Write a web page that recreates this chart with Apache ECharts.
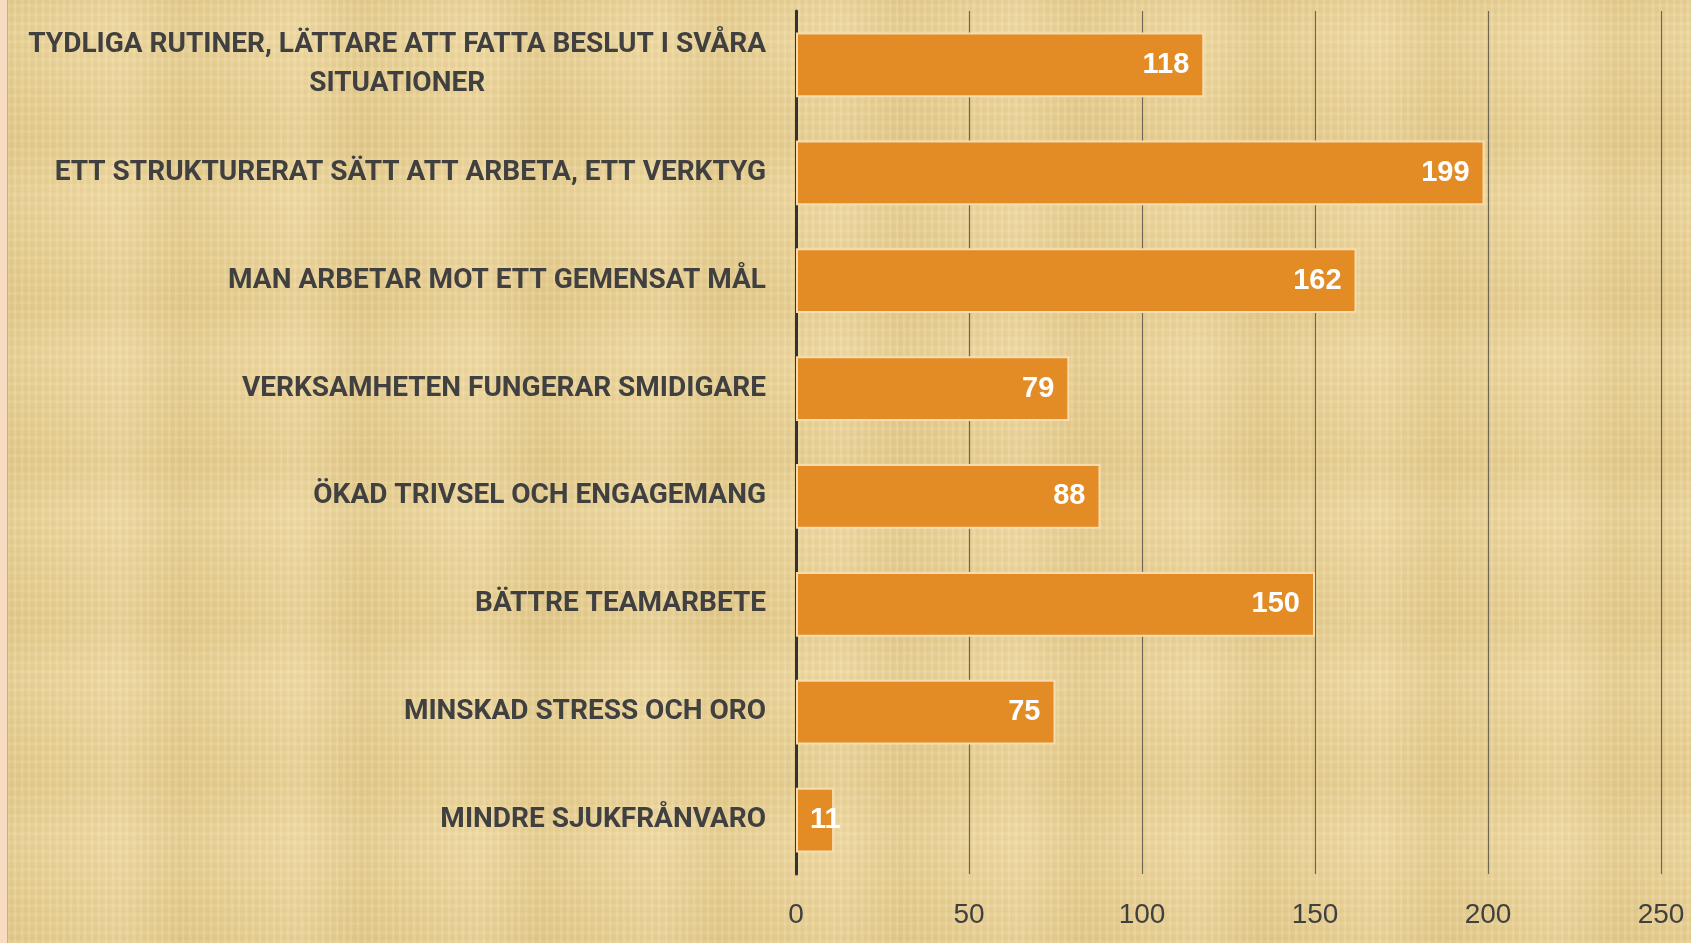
<!DOCTYPE html>
<html>
<head>
<meta charset="utf-8">
<script src="https://cdn.jsdelivr.net/npm/echarts@6/dist/echarts.min.js"></script>
<style>
  * { margin: 0; padding: 0; box-sizing: border-box; }
  html, body { width: 1691px; height: 943px; overflow: hidden; }
  body {
    background-color: #e7cf94;
    background-image:
      repeating-linear-gradient(90deg, rgba(255,245,210,0.14) 0px, rgba(255,245,210,0.14) 2px, rgba(190,160,90,0.07) 3px, rgba(190,160,90,0) 7px),
      repeating-linear-gradient(0deg, rgba(255,245,210,0.10) 0px, rgba(255,245,210,0.10) 2px, rgba(180,150,80,0.05) 4px, rgba(180,150,80,0) 9px),
      repeating-linear-gradient(90deg, rgba(200,170,100,0.15) 0px, rgba(200,170,100,0) 60px, rgba(255,240,200,0.15) 120px, rgba(200,170,100,0.15) 180px),
      repeating-linear-gradient(0deg, rgba(210,180,110,0.15) 0px, rgba(210,180,110,0) 50px, rgba(250,235,190,0.18) 110px, rgba(210,180,110,0.15) 160px);
  }
  .edge {
    position: absolute; left: 0; top: 0; width: 8px; height: 943px;
    background: #f8dcc2; border-right: 1px solid #a9b4c4;
  }
  #chart { position: absolute; left: 0; top: 0; width: 1691px; height: 943px; }
</style>
</head>
<body>
<div class="edge"></div>
<div id="chart"></div>
<script>
const categories = [
  'TYDLIGA RUTINER, LÄTTARE ATT FATTA BESLUT I SVÅRA\nSITUATIONER',
  'ETT STRUKTURERAT SÄTT ATT ARBETA, ETT VERKTYG',
  'MAN ARBETAR MOT ETT GEMENSAT MÅL',
  'VERKSAMHETEN FUNGERAR SMIDIGARE',
  'ÖKAD TRIVSEL OCH ENGAGEMANG',
  'BÄTTRE TEAMARBETE',
  'MINSKAD STRESS OCH ORO',
  'MINDRE SJUKFRÅNVARO'
]
const values = [118, 199, 162, 79, 88, 150, 75, 11]
const xTicks = [0, 50, 100, 150, 200, 250]

const labelFont = 'Roboto'

const chart = echarts.init(document.getElementById('chart'))

chart.setOption({
  backgroundColor: 'transparent',
  animation: false,
  grid: { left: 796, right: 30, top: 11, bottom: 69, outerBoundsMode: 'none', containLabel: false },
  xAxis: {
    type: 'value',
    min: xTicks[0],
    max: xTicks[xTicks.length - 1],
    interval: xTicks[1] - xTicks[0],
    axisLine: { show: false },
    axisTick: { show: false },
    splitLine: {
      show: true,
      lineStyle: { color: '#6f6656', width: 1.2 }
    },
    axisLabel: {
      color: '#404040',
      fontFamily: 'Liberation Sans',
      fontSize: 28,
      margin: 27
    }
  },
  yAxis: {
    type: 'category',
    inverse: true,
    data: categories,
    axisLine: { show: true, lineStyle: { color: '#333333', width: 3 } },
    axisTick: { show: false },
    axisLabel: {
      margin: 30,
      color: '#404040',
      fontFamily: labelFont,
      fontWeight: 'bold',
      fontSize: 28,
      lineHeight: 39,
      formatter: v => v.split('\n').map(s => '{c|' + s + '}').join('\n'),
      rich: {
        c: {
          align: 'center',
          color: '#404040',
          fontFamily: labelFont,
          fontWeight: 'bold',
          fontSize: 28,
          lineHeight: 39
        }
      }
    }
  },
  series: [
    {
      type: 'bar',
      barCategoryGap: '40%',
      data: values.map(v => ({
        value: v,
        label: v < 30 ? { position: 'insideLeft', distance: 14 } : undefined
      })),
      itemStyle: {
        color: '#e38b24',
        borderColor: '#f6dcae',
        borderWidth: 2
      },
      label: {
        show: true,
        position: 'insideRight',
        distance: 15,
        color: '#ffffff',
        fontFamily: 'Liberation Sans',
        fontWeight: 'bold',
        fontSize: 29
      }
    }
  ]
})
</script>
</body>
</html>
